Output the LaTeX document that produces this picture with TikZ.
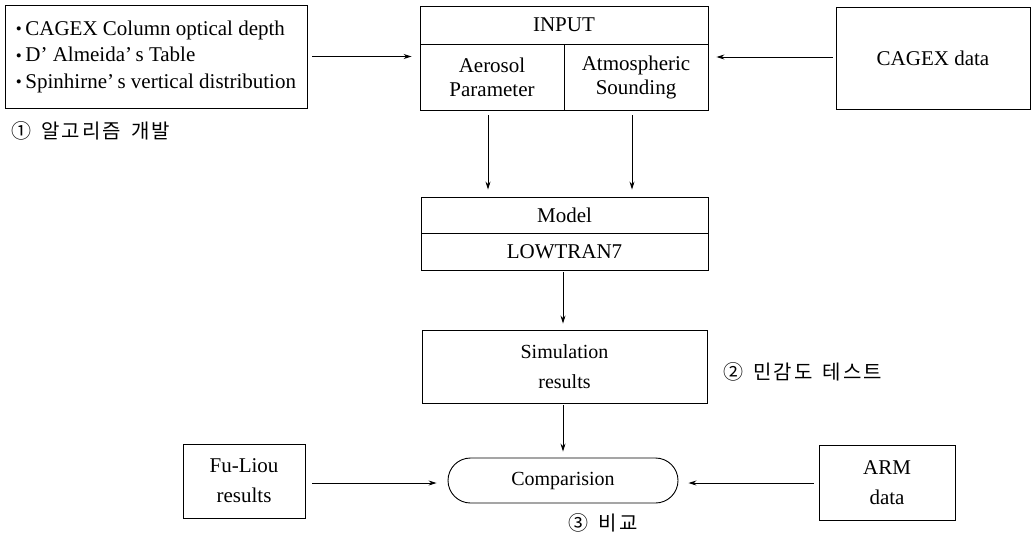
\documentclass[tikz,border=0pt]{standalone}
\usepackage{fontspec}
\setmainfont{Liberation Serif}
\newfontfamily\krfont[LetterSpace=10]{Noto Sans CJK KR}
\usetikzlibrary{arrows.meta,shapes.misc}
\newcommand{\bul}{\raisebox{0.5pt}{\fontsize{17}{17}\selectfont•}\,}
\begin{document}
\begin{tikzpicture}[x=1pt,y=-1pt,
  every node/.style={font=\fontsize{21}{24}\selectfont},
  box/.style={draw,line width=0.9pt,inner sep=0pt,align=center},
  arr/.style={-{Stealth[length=8pt,width=5pt]},line width=0.9pt},
  kr/.style={font=\krfont\fontsize{20}{22}\selectfont,anchor=west}]
\useasboundingbox (0,0) rectangle (1032,536);
% source box
\node[box,minimum width=302pt,minimum height=103pt,align=left,
  font=\fontsize{21}{26.5}\selectfont] (src) at (156,56.5)
  {\bul CAGEX Column optical depth\\
   \bul D\textquoteright\ Almeida\textquoteright\,s Table\\
   \bul Spinhirne\textquoteright\,s vertical distribution};
\node[kr] (lab1) at (8,131) {①\hspace{10pt}알고리즘\hspace{10pt}개발};
% input block
\node[box,minimum width=288pt,minimum height=38pt] (inp) at (564,25) {INPUT};
\node[box,minimum width=144pt,minimum height=66pt] (aer) at (492,77) {Aerosol\\Parameter};
\node[box,minimum width=144pt,minimum height=66pt] (atm) at (636,77) {Atmospheric\\Sounding};
% cagex
\node[box,minimum width=194pt,minimum height=102pt] (cag) at (933,58) {CAGEX data};
% model
\node[box,minimum width=287pt,minimum height=36pt] (mod) at (564.5,215) {Model};
\node[box,minimum width=287pt,minimum height=37pt] (low) at (564.5,251.5) {LOWTRAN7};
% simulation
\node[box,minimum width=285pt,minimum height=73pt,font=\fontsize{20}{30}\selectfont] (sim) at (564.5,366.5) {Simulation\\results};
\node[kr] (lab2) at (720,372) {②\hspace{10pt}민감도\hspace{10pt}테스트};
% comparison
\node[box,rounded rectangle,minimum width=230pt,minimum height=45pt,font=\fontsize{20}{24}\selectfont] (cmp) at (563,480.5) {Comparision};
\node[kr,anchor=center] (lab3) at (603,523) {③\hspace{10pt}비교};
\node[box,minimum width=122pt,minimum height=74pt,font=\fontsize{21}{30}\selectfont] (fu) at (244,481) {Fu-Liou\\results};
\node[box,minimum width=136pt,minimum height=75pt,font=\fontsize{21}{30}\selectfont] (arm) at (887,482.5) {ARM\\data};
% connectors
\draw[arr,shorten <=5pt,shorten >=8pt] (src.east) -- (aer.west |- src.east);
\draw[arr,shorten <=3pt,shorten >=8pt] (cag.west |- 0,57) -- (atm.east |- 0,57);
\draw[arr,shorten <=5pt,shorten >=7pt] (aer.south -| 488,0) -- (mod.north -| 488,0);
\draw[arr,shorten <=5pt,shorten >=7pt] (atm.south -| 632,0) -- (mod.north -| 632,0);
\draw[arr,shorten <=2pt,shorten >=6pt] (low.south -| 563,0) -- (sim.north -| 563,0);
\draw[arr,shorten <=2pt,shorten >=6pt] (sim.south -| 563,0) -- (cmp.north -| 563,0);
\draw[arr,shorten <=7pt,shorten >=11pt] (fu.east |- 0,483) -- (cmp.west |- 0,483);
\draw[arr,shorten <=5pt,shorten >=10pt] (arm.west |- 0,483) -- (cmp.east |- 0,483);
\end{tikzpicture}
\end{document}
